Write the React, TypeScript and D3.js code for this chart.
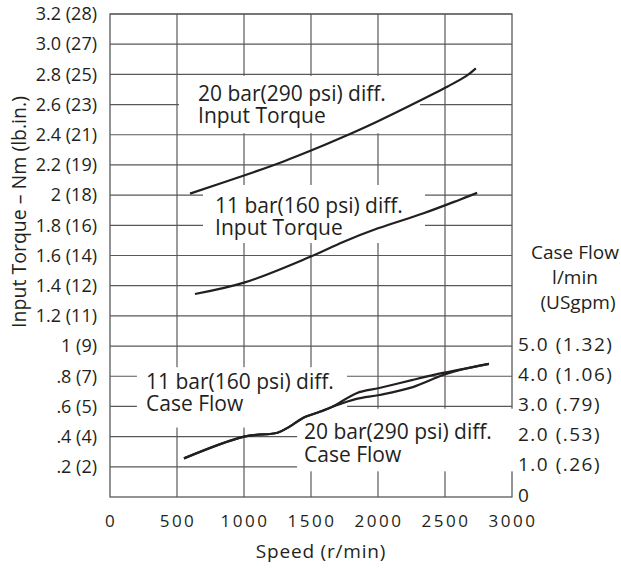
import { useEffect, useRef } from 'react';
import * as d3 from 'd3';

// Speed axis (r/min)
const speedTicks = [0, 500, 1000, 1500, 2000, 2500, 3000];

// Left axis: input torque in Nm, lb.in. in brackets
const torqueTicks = [0.2, 0.4, 0.6, 0.8, 1.0, 1.2, 1.4, 1.6, 1.8, 2.0, 2.2, 2.4, 2.6, 2.8, 3.0, 3.2];
const torqueTickLabels = [
  '.2 (2)', '.4 (4)', '.6 (5)', '.8 (7)', '1 (9)', '1.2 (11)', '1.4 (12)', '1.6 (14)',
  '1.8 (16)', '2 (18)', '2.2 (19)', '2.4 (21)', '2.6 (23)', '2.8 (25)', '3.0 (27)', '3.2 (28)',
];

// Right axis: case flow in l/min, USgpm in brackets
const flowTicks = [0, 1, 2, 3, 4, 5];
const flowTickLabels = ['0', '1.0 (.26)', '2.0 (.53)', '3.0 (.79)', '4.0 (1.06)', '5.0 (1.32)'];

// 20 bar (290 psi) input torque, Nm
const torque20Speed = [597, 1000, 1300, 1500, 1700, 2000, 2400, 2520, 2660, 2730];
const torque20Value = [2.01, 2.13, 2.225, 2.295, 2.37, 2.49, 2.665, 2.72, 2.79, 2.84];

// 11 bar (160 psi) input torque, Nm
const torque11Speed = [634, 1000, 1490, 1740, 2000, 2340, 2610, 2740];
const torque11Value = [1.345, 1.42, 1.59, 1.69, 1.78, 1.88, 1.97, 2.015];

// Case flow, l/min (both curves share the low speed part and the top end)
const flowSpeed = [552, 1000, 1250, 1340, 1440, 1570, 1660, 1840, 2010, 2260, 2485, 2612, 2828];
const flow20Value = [1.28, 2.0, 2.13, 2.33, 2.62, 2.83, 2.99, 3.44, 3.61, 3.88, 4.11, 4.22, 4.41];
const flow11Value = [1.28, 2.0, 2.13, 2.33, 2.62, 2.83, 2.99, 3.25, 3.38, 3.64, 4.04, 4.21, 4.41];

// Curve labels: text anchor and white knock-out box, in speed / torque units
const notes = [
  { lines: ['20 bar(290 psi) diff.', 'Input Torque'], at: [657, 2.626], box: [515, 2313, 2.79, 2.41] },
  { lines: ['11 bar(160 psi) diff.', 'Input Torque'], at: [784, 1.882], box: [694, 2351, 2.067, 1.683] },
  { lines: ['11 bar(160 psi) diff.', 'Case Flow'], at: [269, 0.716], box: [201, 1769, 0.86, 0.46] },
  { lines: ['20 bar(290 psi) diff.', 'Case Flow'], at: [1448, 0.384], box: [1396, 3015, 0.585, 0.17] },
];

export default function App() {
  const svgRef = useRef<SVGSVGElement>(null);

  useEffect(() => {
    if (!svgRef.current) return;
    const svg = d3.select(svgRef.current);
    svg.selectAll('*').remove();

    const font = "'Open Sans', sans-serif";
    const ink = '#231f20';
    const gridColor = '#58595b';

    // Scales - flow axis shares the torque axis (1 l/min = 0.2 Nm)
    const x = d3.scaleLinear().domain([0, 3000]).range([110, 512]);
    const yTorque = d3.scaleLinear().domain([0, 3.2]).range([497, 14]);
    const yFlow = d3.scaleLinear().domain([0, 16]).range([497, 14]);

    // Grid
    const grid = svg.append('g');
    grid.selectAll('line.h')
      .data(torqueTicks)
      .enter()
      .append('line')
      .attr('x1', x(0))
      .attr('x2', x(3000))
      .attr('y1', d => yTorque(d))
      .attr('y2', d => yTorque(d))
      .attr('stroke', gridColor)
      .attr('stroke-width', 1.2);
    grid.selectAll('line.v')
      .data(speedTicks.slice(1, -1))
      .enter()
      .append('line')
      .attr('x1', d => x(d))
      .attr('x2', d => x(d))
      .attr('y1', yTorque(0))
      .attr('y2', yTorque(3.2))
      .attr('stroke', gridColor)
      .attr('stroke-width', 1.2);

    // Frame
    svg.append('rect')
      .attr('x', x(0))
      .attr('y', yTorque(3.2))
      .attr('width', x(3000) - x(0))
      .attr('height', yTorque(0) - yTorque(3.2))
      .attr('fill', 'none')
      .attr('stroke', gridColor)
      .attr('stroke-width', 1.3);

    // Left tick labels
    svg.append('g')
      .selectAll('text')
      .data(torqueTicks)
      .enter()
      .append('text')
      .attr('x', 97)
      .attr('y', d => yTorque(d))
      .attr('dy', '0.35em')
      .attr('text-anchor', 'end')
      .style('font-family', font)
      .style('font-size', '18px')
      .style('fill', ink)
      .text((_, i) => torqueTickLabels[i]);

    // Right tick labels
    svg.append('g')
      .selectAll('text')
      .data(flowTicks)
      .enter()
      .append('text')
      .attr('x', 518)
      .attr('y', d => yFlow(d) - 2)
      .attr('dy', '0.35em')
      .style('font-family', font)
      .style('font-size', '19px')
      .style('letter-spacing', '1.5px')
      .style('fill', ink)
      .text((_, i) => flowTickLabels[i]);

    // Bottom tick labels
    svg.append('g')
      .selectAll('text')
      .data(speedTicks)
      .enter()
      .append('text')
      .attr('x', d => x(d) + 1)
      .attr('y', 527)
      .attr('text-anchor', 'middle')
      .style('font-family', font)
      .style('font-size', '17px')
      .style('letter-spacing', '2.5px')
      .style('fill', ink)
      .text(d => String(d));

    // Axis titles
    svg.append('text')
      .attr('x', (x(0) + x(3000)) / 2 + 10)
      .attr('y', 558)
      .attr('text-anchor', 'middle')
      .style('font-family', font)
      .style('font-size', '19px')
      .style('letter-spacing', '0.8px')
      .style('fill', ink)
      .text('Speed (r/min)');

    svg.append('text')
      .attr('transform', 'translate(26,212) rotate(-90)')
      .attr('text-anchor', 'middle')
      .style('font-family', font)
      .style('font-size', '19.5px')
      .style('fill', ink)
      .text('Input Torque – Nm (lb.in.)');

    const rightTitle = svg.append('text')
      .attr('text-anchor', 'middle')
      .style('font-family', font)
      .style('font-size', '19px')
      .style('fill', ink);
    ['Case Flow', 'l/min', '(USgpm)'].forEach((t, i) => {
      rightTitle.append('tspan')
        .attr('x', 575 + (i === 2 ? 3 : 0))
        .attr('y', 259 + i * 25)
        .text(t);
    });

    // Curve labels with white knock-out boxes
    const noteG = svg.append('g');
    notes.forEach(n => {
      const [s0, s1, t0, t1] = n.box;
      noteG.append('rect')
        .attr('x', x(s0))
        .attr('y', yTorque(t0))
        .attr('width', x(s1) - x(s0))
        .attr('height', yTorque(t1) - yTorque(t0))
        .attr('fill', '#fff');
      const txt = noteG.append('text')
        .style('font-family', font)
        .style('font-size', '21px')
        .style('fill', ink);
      n.lines.forEach((line, i) => {
        txt.append('tspan')
          .attr('x', x(n.at[0]))
          .attr('y', yTorque(n.at[1]) + i * 22.5)
          .text(line);
      });
    });

    // Curves
    const torqueLine = d3.line<[number, number]>()
      .x(d => x(d[0]))
      .y(d => yTorque(d[1]))
      .curve(d3.curveCatmullRom.alpha(0.5));
    const flowLine = d3.line<[number, number]>()
      .x(d => x(d[0]))
      .y(d => yFlow(d[1]))
      .curve(d3.curveCatmullRom.alpha(0.5));

    const series = [
      torqueLine(torque20Speed.map((s, i) => [s, torque20Value[i]] as [number, number])),
      torqueLine(torque11Speed.map((s, i) => [s, torque11Value[i]] as [number, number])),
      flowLine(flowSpeed.map((s, i) => [s, flow20Value[i]] as [number, number])),
      flowLine(flowSpeed.map((s, i) => [s, flow11Value[i]] as [number, number])),
    ];
    svg.append('g')
      .selectAll('path')
      .data(series)
      .enter()
      .append('path')
      .attr('d', d => d || '')
      .attr('fill', 'none')
      .attr('stroke', ink)
      .attr('stroke-width', 2.2)
      .attr('stroke-linejoin', 'round');
  }, []);

  return (
    <svg
      ref={svgRef}
      width={621}
      height={569}
      style={{ position: 'absolute', left: 0, top: 0, background: '#fff' }}
    />
  );
}
